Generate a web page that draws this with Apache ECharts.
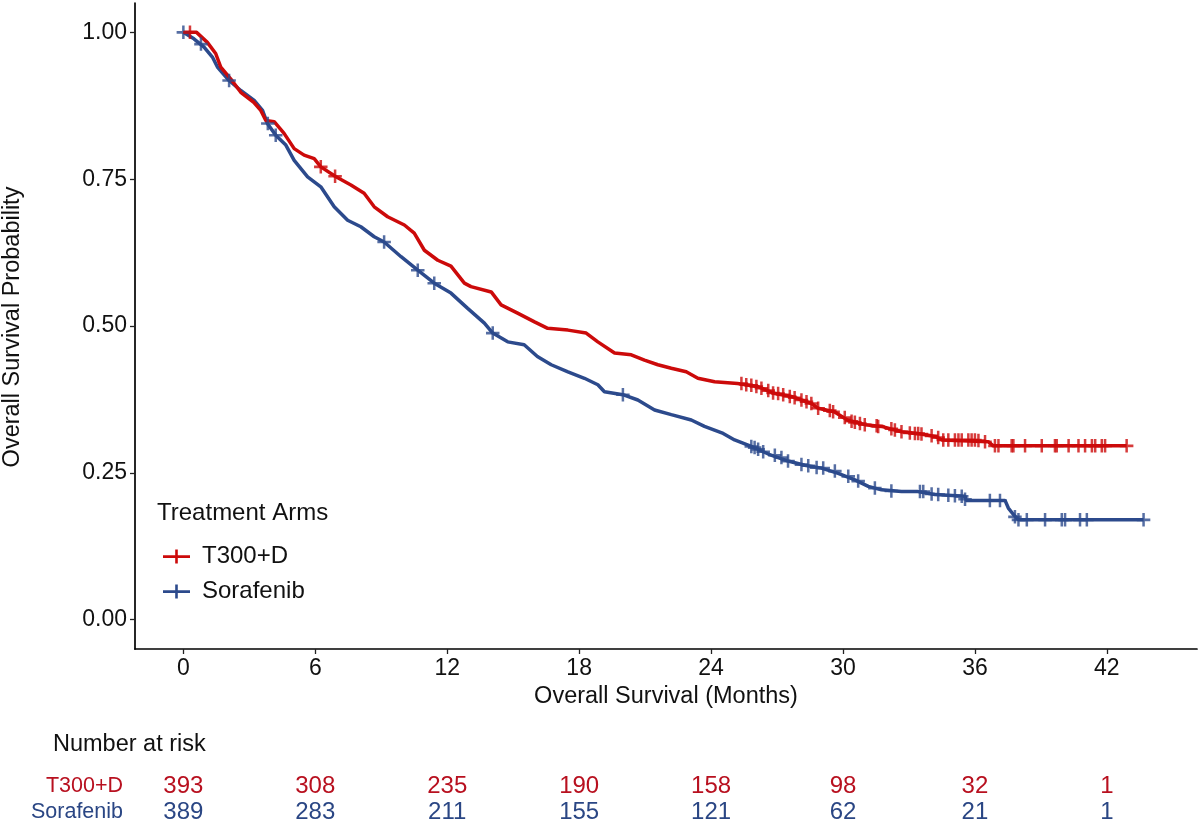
<!DOCTYPE html>
<html>
<head>
<meta charset="utf-8">
<script src="https://cdn.jsdelivr.net/npm/echarts@6/dist/echarts.min.js"></script>
<style>
html,body{margin:0;padding:0;background:#fff;}
#chart{width:1200px;height:831px;}
</style>
</head>
<body>
<div id="chart"></div>
<script>
// ---------- data ----------
const armNames = ['T300+D', 'Sorafenib'];
const tickValues = [0, 6, 12, 18, 24, 30, 36, 42];
const yTickValues = [0, 0.25, 0.5, 0.75, 1];

// Kaplan-Meier curves: [month, survival probability]
const t300Curve = [
  [0,1],[0.6,1.0],[1.09,0.983],[1.47,0.964],[1.7,0.941],[2.15,0.921],[2.61,0.898],[3.2,0.881],
  [3.52,0.867],[3.75,0.85],[4.13,0.848],[4.58,0.828],[5.04,0.802],[5.49,0.791],[5.95,0.785],
  [6.25,0.771],[6.94,0.754],[7.62,0.74],[8.22,0.726],[8.68,0.703],[9.29,0.686],[10.05,0.672],
  [10.5,0.658],[10.96,0.629],[11.57,0.612],[12.17,0.602],[12.78,0.573],[13.08,0.567],[14.0,0.558],
  [14.45,0.536],[15.2,0.522],[15.97,0.507],[16.57,0.496],[17.49,0.493],[18.32,0.488],[18.85,0.473],
  [19.61,0.454],[20.37,0.451],[20.97,0.442],[21.58,0.434],[22.19,0.428],[22.87,0.422],[23.4,0.411],
  [24.16,0.405],[25.2,0.402],[26.1,0.397],[26.9,0.385],[27.65,0.38],[28.56,0.368],[28.87,0.36],
  [29.6,0.354],[30.2,0.34],[31.0,0.332],[31.75,0.329],[32.66,0.32],[33.4,0.317],[34.2,0.312],
  [34.5,0.306],[36.6,0.303],[36.84,0.296],[42.9,0.296]
];
const sorCurve = [
  [0,1],[0.48,0.989],[0.94,0.975],[1.32,0.958],[1.55,0.941],[2.08,0.918],[2.61,0.901],[3.22,0.884],
  [3.6,0.867],[3.82,0.845],[4.2,0.825],[4.66,0.808],[5.04,0.782],[5.65,0.754],[6.25,0.737],
  [6.86,0.703],[7.47,0.68],[8.07,0.669],[8.68,0.652],[9.13,0.643],[9.9,0.618],[10.66,0.595],
  [11.41,0.573],[12.17,0.556],[12.93,0.53],[13.69,0.505],[14.07,0.488],[14.75,0.473],[15.5,0.468],
  [16.1,0.448],[16.73,0.434],[17.49,0.422],[18.24,0.411],[18.85,0.4],[19.15,0.388],[19.99,0.383],
  [20.67,0.374],[21.43,0.357],[22.19,0.349],[23.1,0.34],[23.7,0.329],[24.55,0.317],[25.07,0.306],
  [25.83,0.295],[26.6,0.282],[27.5,0.27],[28.26,0.263],[29.02,0.258],[29.78,0.249],[30.54,0.238],
  [31.15,0.227],[31.75,0.221],[32.66,0.218],[33.4,0.218],[34.18,0.213],[35.55,0.21],[35.6,0.203],
  [37.37,0.203],[37.52,0.19],[37.75,0.179],[37.98,0.17],[43.67,0.17]
];

// censoring marks: [month, survival probability]
const t300Censor = [
  [0.3,1.0],[6.25,0.771],[6.9,0.755],
  [25.38,0.402],[25.6,0.400],[25.83,0.399],[26.06,0.397],[26.29,0.394],[26.6,0.390],[26.82,0.386],
  [27.05,0.385],[27.28,0.383],[27.58,0.380],[27.8,0.378],[28.11,0.374],[28.34,0.371],[28.56,0.368],
  [28.87,0.360],[29.4,0.356],[29.55,0.354],[30.08,0.344],[30.39,0.338],[30.54,0.336],[30.77,0.334],
  [30.99,0.332],[31.53,0.330],[31.6,0.329],[32.2,0.325],[32.36,0.323],[32.66,0.320],[33.04,0.318],
  [33.27,0.317],[33.42,0.317],[33.57,0.316],[34.03,0.313],[34.33,0.310],[34.56,0.306],[34.79,0.306],
  [35.09,0.306],[35.25,0.306],[35.4,0.306],[35.7,0.306],[35.85,0.306],[36.0,0.306],[36.16,0.305],
  [36.46,0.303],[36.91,0.296],[37.07,0.296],[37.67,0.296],[37.75,0.296],[38.28,0.296],[39.04,0.296],
  [39.64,0.296],[39.72,0.296],[40.26,0.296],[40.71,0.296],[41.01,0.296],[41.32,0.296],[41.47,0.296],
  [41.77,0.296],[41.92,0.296],[42.9,0.296]
];
const sorCensor = [
  [0,1.0],[0.8,0.98],[2.08,0.918],[3.84,0.845],[4.2,0.825],[9.13,0.643],[10.66,0.595],[11.41,0.573],
  [14.07,0.488],[19.99,0.383],
  [25.83,0.295],[25.98,0.293],[26.14,0.290],[26.37,0.286],[26.9,0.280],[27.2,0.276],[27.5,0.270],
  [28.11,0.264],[28.42,0.262],[28.8,0.259],[29.1,0.258],[29.63,0.253],[30.24,0.244],[30.69,0.236],
  [31.45,0.224],[32.2,0.219],[33.5,0.218],[33.65,0.218],[34.03,0.214],[34.33,0.213],[34.79,0.212],
  [35.09,0.211],[35.4,0.210],[35.55,0.205],[36.68,0.203],[37.14,0.203],[37.82,0.175],[37.98,0.170],
  [38.36,0.170],[39.19,0.170],[39.95,0.170],[40.1,0.170],[40.78,0.170],[41.09,0.170],[43.67,0.170]
];

// number at risk at each x tick
const riskT300 = [393, 308, 235, 190, 158, 98, 32, 1];
const riskSor = [389, 283, 211, 155, 121, 62, 21, 1];

// ---------- style ----------
const RED = '#CC0A0A';
const BLUE = '#2C4A8C';
const RED_TXT = '#B8101F';
const BLUE_TXT = '#2A4684';
const FONT = '"Liberation Sans", Arial, sans-serif';
const PLUS = 'path://M5.5,0H8V13H5.5Z M0,5.3H13.5V7.8H0Z';
const LEGEND_ICON = 'path://M0,5.8H27V8.4H0Z M12.2,0H14.8V14H12.2Z';

const chart = echarts.init(document.getElementById('chart'), null, {renderer: 'canvas'});

const riskData = [];
riskT300.forEach((n, i) => riskData.push({value: [tickValues[i], armNames[0], n], label: {color: RED_TXT}}));
riskSor.forEach((n, i) => riskData.push({value: [tickValues[i], armNames[1], n], label: {color: BLUE_TXT}}));

const option = {
  animation: false,
  backgroundColor: '#fff',
  textStyle: {fontFamily: FONT},
  grid: [
    {left: 135, right: 3, top: 3, bottom: 182, containLabel: false},
    {left: 135, right: 3, top: 773, height: 52, containLabel: false}
  ],
  xAxis: [
    {
      type: 'value', gridIndex: 0, min: -2.2, max: 46.1,
      axisLine: {show: true, onZero: false, lineStyle: {color: '#000', width: 1.7}},
      axisTick: {show: true, length: 5, customValues: tickValues, lineStyle: {color: '#222', width: 1.3}},
      axisLabel: {customValues: tickValues, fontSize: 23, color: '#111', margin: 8, fontFamily: FONT},
      splitLine: {show: false},
      name: 'Overall Survival (Months)', nameLocation: 'middle', nameGap: 35,
      nameTextStyle: {fontSize: 23.5, color: '#111', fontFamily: FONT}
    },
    {
      type: 'value', gridIndex: 1, min: -2.2, max: 46.1, show: false
    }
  ],
  yAxis: [
    {
      type: 'value', gridIndex: 0, min: -0.05, max: 1.05,
      axisLine: {show: true, onZero: false, lineStyle: {color: '#000', width: 1.7}},
      axisTick: {show: true, length: 5, customValues: yTickValues, lineStyle: {color: '#222', width: 1.3}},
      axisLabel: {customValues: yTickValues, fontSize: 23, color: '#111', margin: 8, fontFamily: FONT,
        formatter: v => v.toFixed(2)},
      splitLine: {show: false}
    },
    {
      type: 'category', gridIndex: 1, data: [armNames[1], armNames[0]],
      axisLine: {show: false}, axisTick: {show: false}, splitLine: {show: false},
      axisLabel: {interval: 0, fontSize: 21.5, margin: 12, fontFamily: FONT,
        color: (v) => v === armNames[0] ? RED_TXT : BLUE_TXT}
    }
  ],
  legend: {
    show: true, orient: 'vertical', left: 158, top: 539,
    itemWidth: 27, itemHeight: 14, itemGap: 10,
    textStyle: {fontSize: 24, color: '#111', fontFamily: FONT, lineHeight: 25, padding: [0, 0, 0, 7]},
    data: [{name: armNames[0], icon: LEGEND_ICON}, {name: armNames[1], icon: LEGEND_ICON}],
    selectedMode: false
  },
  graphic: [
    {type: 'text', x: 13, y: 327, rotation: Math.PI / 2,
      style: {text: 'Overall Survival Probability', font: '23.5px ' + FONT, fill: '#111', align: 'center', verticalAlign: 'middle'}},
    {type: 'text', x: 157, y: 513,
      style: {text: 'Treatment Arms', font: '24px ' + FONT, fill: '#111', align: 'left', verticalAlign: 'middle'}},
    {type: 'text', x: 53, y: 745,
      style: {text: 'Number at risk', font: '23.5px ' + FONT, fill: '#111', align: 'left', verticalAlign: 'middle'}}
  ],
  series: [
    {name: armNames[1], type: 'line', xAxisIndex: 0, yAxisIndex: 0, data: sorCurve, showSymbol: false,
      color: BLUE, lineStyle: {width: 3.5, color: BLUE}, z: 3, silent: true},
    {name: armNames[0], type: 'line', xAxisIndex: 0, yAxisIndex: 0, data: t300Curve, showSymbol: false,
      color: RED, lineStyle: {width: 3.5, color: RED}, z: 4, silent: true},
    {name: 'Sorafenib censored', type: 'scatter', xAxisIndex: 0, yAxisIndex: 0, data: sorCensor,
      symbol: PLUS, symbolSize: 13.5, itemStyle: {color: BLUE}, z: 5, silent: true},
    {name: 'T300+D censored', type: 'scatter', xAxisIndex: 0, yAxisIndex: 0, data: t300Censor,
      symbol: PLUS, symbolSize: 13.5, itemStyle: {color: RED}, z: 6, silent: true},
    {name: 'risk', type: 'scatter', xAxisIndex: 1, yAxisIndex: 1, data: riskData,
      symbolSize: 1, itemStyle: {color: 'rgba(255,255,255,0)'}, silent: true,
      label: {show: true, position: 'inside', fontSize: 24, fontFamily: FONT, opacity: 1,
        textBorderWidth: 0, textBorderColor: 'transparent', textShadowBlur: 0,
        formatter: p => String(p.value[2])}}
  ]
};
chart.setOption(option);
</script>
</body>
</html>
